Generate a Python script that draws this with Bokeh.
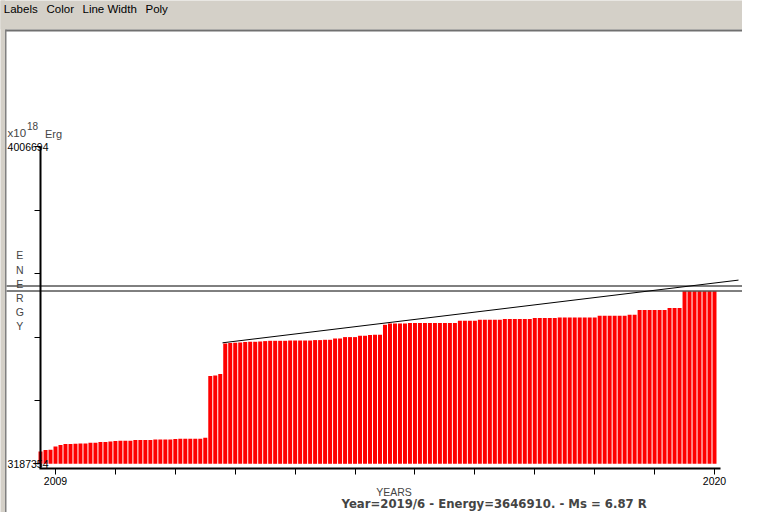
from bokeh.plotting import figure
from bokeh.models import (Range1d, LinearAxis, FixedTicker, BasicTickFormatter,
                          Label, BoxAnnotation, ColumnDataSource)
from bokeh.embed import file_html
from bokeh.resources import INLINE

# ---------------- data ----------------
start_year = 2008
start_month = 10
energy = [
    3219100, 3222760, 3223540, 3232070, 3235690, 3238270, 3238270, 3239050, 3239820, 3239820,
    3241630, 3241630, 3243440, 3243440, 3244990, 3246030, 3246800, 3246800, 3246800, 3248610,
    3248610, 3248610, 3248610, 3250160, 3250160, 3250160, 3250160, 3251200, 3251970, 3251970,
    3251970, 3251970, 3251970, 3254560,
    3414030, 3415580, 3419200,
    3498290, 3499330, 3500100, 3500880, 3501910, 3502690, 3502690, 3503460, 3504500,
    3505270, 3505270, 3505270, 3505270, 3506000, 3506000, 3506000, 3506000, 3506000,
    3507080, 3507080, 3507860, 3507860,
    3511220, 3511220,
    3514840, 3514840, 3514840,
    3518200, 3518200,
    3520000, 3520780, 3520780,
    3546630,
    3549990, 3549990, 3549990, 3549990,
    3551020, 3551020, 3551020, 3551020, 3551020, 3551020, 3551020, 3551020, 3551020, 3551020,
    3556970, 3556970, 3556970, 3556970,
    3559550, 3559550, 3559550, 3559550, 3559550,
    3561360, 3561360, 3561360, 3561360, 3561360, 3561360,
    3563950, 3563950, 3563950, 3563950, 3563950,
    3565500, 3565500, 3565500, 3565500, 3565500, 3565500, 3565500, 3565500,
    3569890, 3569890, 3569890, 3569890, 3569890, 3569890,
    3572470, 3572470,
    3584620, 3584620, 3584620, 3584620, 3584620, 3584620,
    3589790, 3589790, 3589790,
    3632700, 3632700, 3632700, 3632700, 3632700, 3632700, 3632700,
]
bar_years = [start_year + (start_month - 1 + i) / 12 for i in range(len(energy))]

energy_min = 3187354
energy_max = 4006694
y_minor_ticks = [3351222, 3515090, 3678958, 3842826]
x_major_ticks = [2009, 2020]
x_minor_ticks = [2010, 2011, 2012, 2013, 2014, 2015, 2016, 2017, 2018, 2019]

cursor_energy = 3646910
max_line_energy = 3633990
trend_years = [2011.7876, 2020.4007]
trend_energy = [3500103, 3662163]

menu_items = ["Labels", "Color", "Line Width", "Poly"]
status_text = "Year=2019/6 - Energy=3646910. - Ms = 6.87 R"

# ---------------- layout helpers (canvas pixel -> data) ----------------
PX_2009 = 55.0
PX_PER_YEAR = 59.909
PY_BASE = 463.3
E_PER_PX = 2584.7
W, H = 742, 512


def px_x(px):
    return 2009 + (px - PX_2009) / PX_PER_YEAR


def px_y(py):
    return energy_min + (PY_BASE - py) * E_PER_PX


FONT = "Liberation Sans"
GRAY = "#d4d0c8"

p = figure(width=W, height=H,
           x_range=Range1d(px_x(0), px_x(W)),
           y_range=Range1d(px_y(H), px_y(0)),
           output_backend="svg", toolbar_location=None,
           x_axis_type=None, y_axis_type=None,
           min_border=0, min_border_left=0, min_border_right=0,
           min_border_top=0, min_border_bottom=0,
           background_fill_color="white", border_fill_color="white",
           outline_line_color=None)

# window chrome
p.add_layout(BoxAnnotation(left=px_x(-20), right=px_x(780), top=px_y(-20), bottom=px_y(29),
                           fill_color=GRAY, fill_alpha=1, line_color=None))
p.add_layout(BoxAnnotation(left=px_x(5), right=px_x(780), top=px_y(29), bottom=px_y(31),
                           fill_color="#707070", fill_alpha=1, line_color=None))
p.add_layout(BoxAnnotation(left=px_x(-20), right=px_x(4.5), top=px_y(-20), bottom=px_y(560),
                           fill_color=GRAY, fill_alpha=1, line_color=None))
p.add_layout(BoxAnnotation(left=px_x(4.5), right=px_x(6), top=px_y(29), bottom=px_y(560),
                           fill_color="#808080", fill_alpha=1, line_color=None))

# bars
src = ColumnDataSource(dict(x=bar_years, top=energy))
p.vbar(x="x", top="top", bottom=energy_min, width=0.8 / 12, source=src,
       fill_color="#ff0000", line_color=None)

# horizontal reference lines and trend line
for lvl in (cursor_energy, max_line_energy):
    p.line([px_x(6), px_x(752)], [lvl, lvl], line_color="black", line_width=1)
p.line(trend_years, trend_energy, line_color="black", line_width=1)

# axes (fixed inside the full-canvas frame)
yaxis = LinearAxis(ticker=FixedTicker(ticks=[energy_min, energy_max], minor_ticks=y_minor_ticks),
                   formatter=BasicTickFormatter(use_scientific=False),
                   fixed_location=px_x(40), bounds=(px_y(468), energy_max),
                   axis_line_width=2, axis_line_color="black",
                   major_tick_out=6, major_tick_in=0, minor_tick_out=6, minor_tick_in=0,
                   major_tick_line_color="black", minor_tick_line_color="black",
                   major_label_standoff=-14,
                   major_label_text_font=FONT, major_label_text_font_size="10.5px",
                   major_label_text_color="black")
p.add_layout(yaxis, "left")

xaxis = LinearAxis(ticker=FixedTicker(ticks=x_major_ticks, minor_ticks=x_minor_ticks),
                   formatter=BasicTickFormatter(use_scientific=False),
                   fixed_location=px_y(468), bounds=(px_x(39), px_x(720)),
                   axis_line_width=2, axis_line_color="black",
                   major_tick_out=6, major_tick_in=0, minor_tick_out=6, minor_tick_in=0,
                   major_tick_line_color="black", minor_tick_line_color="black",
                   major_label_standoff=2,
                   major_label_text_font=FONT, major_label_text_font_size="10.5px",
                   major_label_text_color="black")
p.add_layout(xaxis, "below")

# texts
menu_px = [3.3, 46, 82, 145]
for t, xp in zip(menu_items, menu_px):
    p.add_layout(Label(x=px_x(xp), y=px_y(8.8), text=t, text_font=FONT,
                       text_font_size="11.5px", text_color="black", text_baseline="middle"))

p.add_layout(Label(x=px_x(7), y=px_y(132.8), text="x10", text_font=FONT,
                   text_font_size="11.5px", text_baseline="middle"))
p.add_layout(Label(x=px_x(26.5), y=px_y(125.5), text="18", text_font=FONT,
                   text_font_size="10px", text_baseline="middle"))
p.add_layout(Label(x=px_x(44.5), y=px_y(133), text="Erg", text_font=FONT,
                   text_font_size="11px", text_baseline="middle"))

p.add_layout(Label(x=px_x(19.3), y=px_y(248.8), text="E\nN\nE\nR\nG\nY", text_font=FONT,
                   text_font_size="10.5px", text_align="center", text_baseline="top",
                   text_line_height=1.185))

p.add_layout(Label(x=px_x(393.5), y=px_y(491.3), text="YEARS", text_font=FONT,
                   text_font_size="10.5px", text_align="center", text_baseline="middle"))

p.add_layout(Label(x=px_x(341), y=px_y(503.5), text=status_text, text_font="DejaVu Sans",
                   text_font_size="11.7px", text_font_style="bold", text_baseline="middle"))

open("out.html", "w").write(file_html(p, INLINE))
